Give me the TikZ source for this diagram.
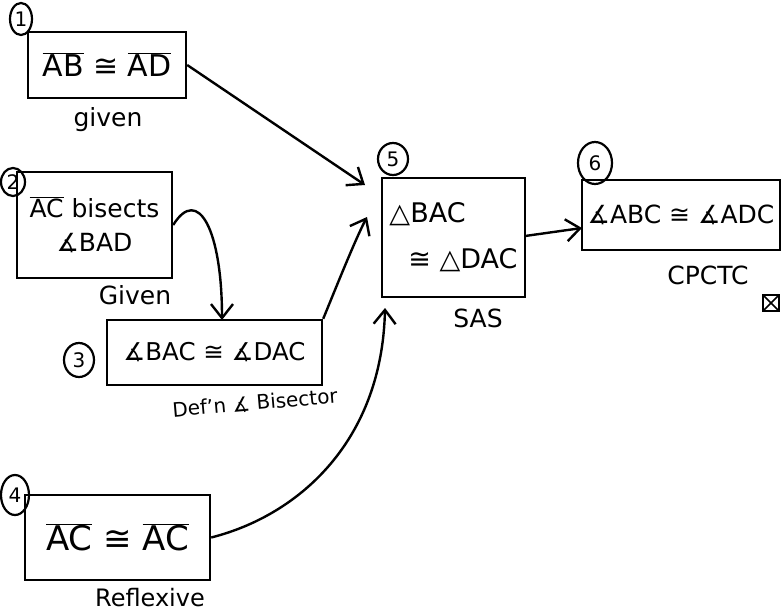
\documentclass[tikz,border=0pt]{standalone}
\usepackage{fontspec}
\setmainfont{DejaVu Sans}
\usetikzlibrary{arrows.meta,shapes.geometric}
\newcommand\myseg[1]{$\overline{\hbox{#1}}$}
\tikzset{
  stepbox/.style={draw, line width=2.4pt, inner sep=2pt, font=\fontsize{30}{34}\selectfont},
  numcirc/.style={draw, ellipse, line width=2.2pt, inner sep=0pt, font=\fontsize{20}{20}\selectfont},
  reason/.style={font=\fontsize{25}{27}\selectfont},
  conn/.style={line width=2.4pt, -{Straight Barb[length=14pt,width=22pt,line width=2.4pt]}}
}
\begin{document}
\begin{tikzpicture}[x=1pt,y=-1pt]
\useasboundingbox (0,0) rectangle (784,615);
% boxes
\node[stepbox, minimum width=158pt, minimum height=66pt] (b1) at (107,65) {\myseg{AB} ≅ \myseg{AD}};
\node[stepbox, minimum width=155pt, minimum height=106pt, align=center, font=\fontsize{25}{34}\selectfont] (b2) at (94.5,225) {\myseg{AC} bisects\\∡BAD};
\node[stepbox, minimum width=215pt, minimum height=65pt, font=\fontsize{24.5}{28}\selectfont] (b3) at (214.5,352.5) {∡BAC ≅ ∡DAC};
\node[stepbox, minimum width=185pt, minimum height=85pt, font=\fontsize{34}{36}\selectfont] (b4) at (117.5,537.5) {\myseg{AC} ≅ \myseg{AC}};
\node[stepbox, minimum width=143pt, minimum height=119pt, align=left, font=\fontsize{27}{32}\selectfont, inner sep=1pt] (b5) at (453.5,237.5) {△BAC\\[14pt]\hspace*{0.7em}≅ △DAC};
\node[stepbox, minimum width=198pt, minimum height=70pt, font=\fontsize{25}{28}\selectfont] (b6) at (681,215) {∡ABC ≅ ∡ADC};
% numbers
\node[numcirc, minimum width=22pt, minimum height=32pt] (c1) at (21,19) {1};
\node[numcirc, minimum width=24pt, minimum height=28pt] (c2) at (13,182) {2};
\node[numcirc, minimum width=30pt, minimum height=34pt] (c3) at (79,360) {3};
\node[numcirc, minimum width=28pt, minimum height=40pt] (c4) at (15,495) {4};
\node[numcirc, minimum width=30pt, minimum height=32pt] (c5) at (393,159) {5};
\node[numcirc, minimum width=34pt, minimum height=42pt] (c6) at (595,163) {6};
% reasons
\node[reason] (r1) at (108,120) {given};
\node[reason] (r2) at (135,295) {Given};
\node[reason, rotate=5, font=\fontsize{20}{22}\selectfont] (r3) at (255,403) {Def'n ∡ Bisector};
\node[reason, font=\fontsize{24}{26}\selectfont] (r4) at (150,598) {Reflexive};
\node[reason] (r5) at (478,318) {SAS};
\node[reason] (r6) at (708,275) {CPCTC};
% end mark
\node[draw, line width=2pt, minimum size=16pt, inner sep=0pt, path picture={
  \draw[line width=1.6pt] (path picture bounding box.south west) -- (path picture bounding box.north east);
  \draw[line width=1.6pt] (path picture bounding box.north west) -- (path picture bounding box.south east);
}] (qed) at (771,303) {};
% connectors
\coordinate (t1) at (365,185);
\coordinate (t2) at (222,320);
\coordinate (t3) at (367,217);
\coordinate (t4) at (385,308);
\coordinate (t5) at (582,228);
\coordinate (s5) at (525,236);
\draw[conn] (b1.east) -- (t1);
\draw[conn] (b2.east) .. controls (198,185) and (222,230) .. (t2);
\draw[conn] (b3.north east) .. controls (335,290) and (355,240) .. (t3);
\draw[conn] (b4.east) .. controls (300,515) and (382,440) .. (t4);
\draw[conn] (s5) -- (t5);
\end{tikzpicture}
\end{document}
